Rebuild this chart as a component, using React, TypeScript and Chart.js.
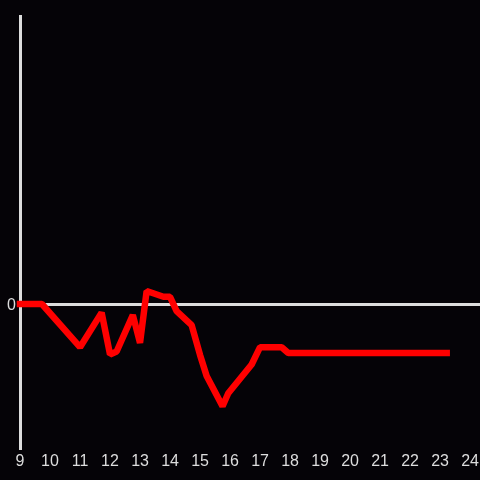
import React, { useEffect, useRef } from "react";
import { Chart, registerables } from "chart.js";

Chart.register(...registerables);

const xValues = [9, 9.73, 11, 11.72, 12, 12.22, 12.76, 13, 13.22, 13.78, 14, 14.22, 14.72, 15, 15.22, 15.75, 15.94, 16.72, 17, 17.72, 17.94, 23.22];
const yValues = [0, 0, -0.3, -0.06, -0.35, -0.33, -0.076, -0.27, 0.09, 0.05, 0.05, -0.05, -0.146, -0.354, -0.5, -0.71, -0.62, -0.42, -0.3, -0.3, -0.34, -0.34];
const xTickValues = [9, 10, 11, 12, 13, 14, 15, 16, 17, 18, 19, 20, 21, 22, 23, 24];
const yTickValues = [0];

const BG = "#050307";
const AXIS = "#dddddd";
const FONT = { family: "'Liberation Sans', Arial, sans-serif", size: 16 };

const bgPlugin = {
  id: "bg",
  beforeDraw(chart: any) {
    const { ctx, width, height } = chart;
    ctx.save();
    ctx.fillStyle = BG;
    ctx.fillRect(0, 0, width, height);
    ctx.restore();
  },
};

export default function App() {
  const ref = useRef<HTMLCanvasElement | null>(null);
  useEffect(() => {
    document.body.style.margin = "0";
    document.body.style.background = BG;
    const data = xValues.map((x, i) => ({ x, y: yValues[i] }));
    const chart = new Chart(ref.current as HTMLCanvasElement, {
      type: "line",
      data: {
        datasets: [
          {
            data,
            borderColor: "#ff0000",
            borderWidth: 6.5,
            borderJoinStyle: "bevel",
            borderCapStyle: "square",
            pointRadius: 0,
            tension: 0,
            fill: false,
            clip: 10,
          },
        ],
      },
      options: {
        animation: false,
        responsive: false,
        maintainAspectRatio: false,
        layout: { padding: { top: 16, right: 0, left: 0, bottom: 0 } },
        plugins: { legend: { display: false }, tooltip: { enabled: false } },
        scales: {
          x: {
            type: "linear",
            min: 9,
            max: 24.33,
            border: { display: false },
            grid: { display: false, drawTicks: false },
            ticks: {
              color: AXIS,
              padding: 4,
              maxRotation: 0,
              autoSkip: false,
              font: FONT,
            },
            afterBuildTicks(scale: any) {
              scale.ticks = xTickValues.map((v) => ({ value: v }));
            },
            afterFit(scale: any) {
              scale.height = 32;
              scale.paddingRight = 0;
              scale.paddingLeft = 0;
            },
          },
          y: {
            type: "linear",
            min: -1,
            max: 2,
            border: { display: true, color: AXIS, width: 3 },
            grid: { color: AXIS, lineWidth: 3, drawTicks: false },
            ticks: {
              color: AXIS,
              padding: 4,
              labelOffset: 2,
              font: FONT,
            },
            afterBuildTicks(scale: any) {
              scale.ticks = yTickValues.map((v) => ({ value: v }));
            },
            afterFit(scale: any) {
              scale.width = 20;
              scale.paddingTop = 0;
              scale.paddingBottom = 0;
            },
          },
        },
      },
      plugins: [bgPlugin],
    });
    return () => chart.destroy();
  }, []);
  return <canvas ref={ref} width={480} height={480} style={{ display: "block" }} />;
}
